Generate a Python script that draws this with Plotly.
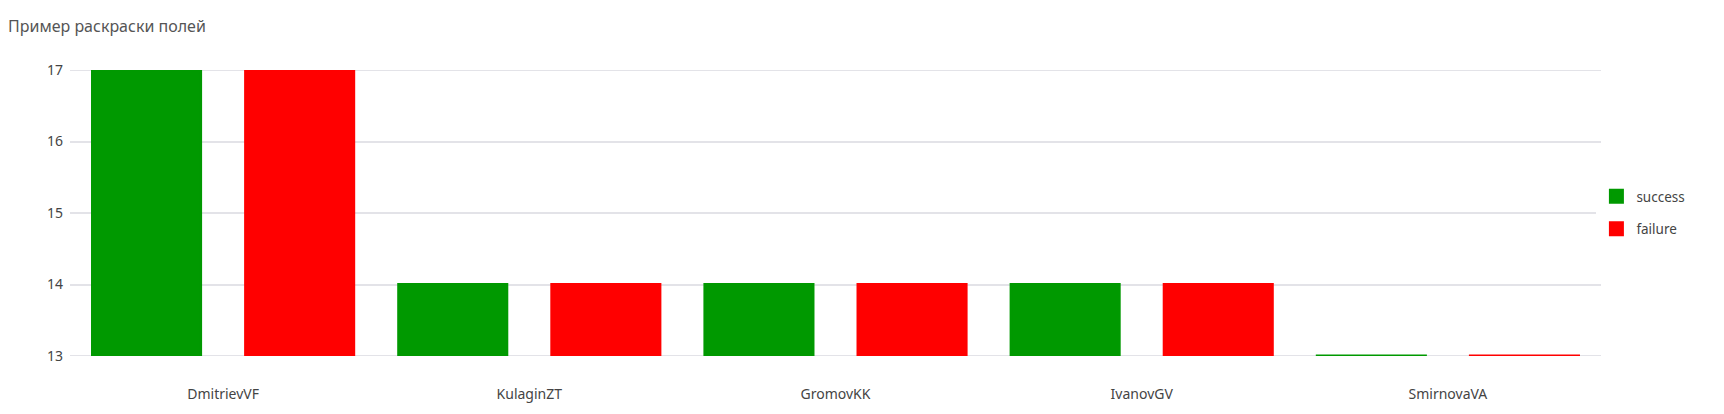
import plotly.graph_objects as go

categories = ["DmitrievVF", "KulaginZT", "GromovKK", "IvanovGV", "SmirnovaVA"]
success = [17, 14, 14, 14, 13]
failure = [17, 14, 14, 14, 13]
y_ticks = [13, 14, 15, 16, 17]
title_text = "Пример раскраски полей"

GREEN = "#009900"
RED = "#ff0000"
GRID = "#e3e3e8"
FONT = "Noto Sans, Open Sans, sans-serif"

fig = go.Figure()
fig.add_trace(go.Bar(x=categories, y=success, name="success", legendgroup="s",
                     marker=dict(color=GREEN, line=dict(color=GREEN, width=3))))
fig.add_trace(go.Bar(x=categories, y=failure, name="failure", legendgroup="f",
                     marker=dict(color=RED, line=dict(color=RED, width=3))))

# gridlines at both range ends (plotly omits grid lines at the axis edges)
for v in (y_ticks[0], y_ticks[-1]):
    fig.add_shape(type="line", xref="paper", yref="y", x0=0, x1=1, y0=v, y1=v,
                  line=dict(color=GRID, width=2), layer="below")

fig.update_layout(
    width=1724, height=414,
    margin=dict(l=62, r=131, t=62, b=66),
    paper_bgcolor="white", plot_bgcolor="white",
    barmode="group", bargap=0.0, bargroupgap=0.294,
    font=dict(family=FONT, size=14, color="#444"),
    title=dict(text=title_text, x=0.0, xanchor="left", y=0.9565, yanchor="middle",
               font=dict(family=FONT, size=16, color="#555")),
    legend=dict(x=0.997, xanchor="left", y=0.5, yanchor="middle",
                font=dict(family=FONT, size=13.5, color="#444"),
                tracegroupgap=12),
    showlegend=True,
)
fig.update_xaxes(showgrid=False, showline=False, ticks="", ticklabelstandoff=28,
                 tickfont=dict(family=FONT, size=14, color="#444"))
fig.update_yaxes(range=[y_ticks[0], y_ticks[-1]], tickvals=y_ticks, showgrid=True,
                 gridcolor=GRID, gridwidth=2, zeroline=False, showline=False, ticks="",
                 ticklabelstandoff=6,
                 tickfont=dict(family=FONT, size=14, color="#444"))

fig.write_html("out.html")
